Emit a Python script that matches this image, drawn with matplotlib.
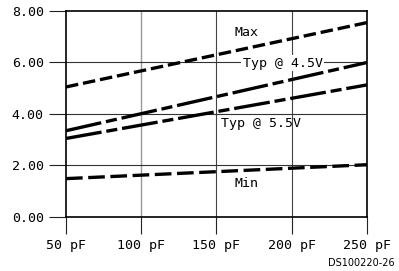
import matplotlib
matplotlib.use("Agg")
import matplotlib.pyplot as plt
import numpy as np

plt.rcParams['font.family'] = ['DejaVu Sans Mono']
plt.rcParams['lines.scale_dashes'] = False

# load capacitance (pF)
cap = [50, 250]
max_v = [5.05, 7.55]
typ45 = [3.35, 6.0]
typ55 = [3.05, 5.13]
min_v = [1.49, 2.03]

xticks = [50, 100, 150, 200, 250]
xlabels = ["50 pF", "100 pF", "150 pF", "200 pF", "250 pF"]
yticks = [0, 2, 4, 6, 8]
ylabels = ["0.00", "2.00", "4.00", "6.00", "8.00"]

fig = plt.figure(figsize=(3.99, 2.71), dpi=100)
ax = fig.add_axes([0.1654, 0.1993, 0.7544, 0.7601])

# grid
for x in [150, 200]:
    ax.axvline(x, color="#444444", lw=0.8, zorder=1)
ax.axvline(100, color="#999999", lw=1.0, zorder=1)
for y in [2, 4, 6]:
    ax.axhline(y, color="#333333", lw=0.8, zorder=1)

lw = 2.4
l, = ax.plot(cap, max_v, color="black", lw=lw, solid_capstyle="butt", zorder=3)
l.set_dashes((9, 3.5))
l, = ax.plot(cap, typ45, color="black", lw=lw, zorder=3)
l.set_dashes((26, 3.5, 8, 3.5))
l, = ax.plot(cap, typ55, color="black", lw=lw, zorder=3)
l.set_dashes((26, 3.5, 8, 3.5))
l, = ax.plot(cap, min_v, color="black", lw=lw, zorder=3)
l.set_dashes((12, 4))

ax.set_xlim(50, 250)
ax.set_ylim(0, 8)
ax.set_xticks(xticks)
ax.set_xticklabels(xlabels)
ax.set_yticks(yticks)
ax.set_yticklabels(ylabels)
ax.tick_params(axis="both", direction="out", length=12, width=0.8,
               labelsize=9.5, pad=4, color="#222222")
for s in ax.spines.values():
    s.set_linewidth(1.2)
    s.set_color("black")

fs = 9.5
ax.text(170, 7.15, "Max", ha="center", va="center", fontsize=fs, zorder=4)
ax.text(194, 5.98, "Typ @ 4.5V", ha="center", va="center", fontsize=fs, zorder=4,
        bbox=dict(facecolor="white", edgecolor="none", pad=1))
ax.text(153, 3.62, "Typ @ 5.5V", ha="left", va="center", fontsize=fs, zorder=4)
ax.text(170, 1.32, "Min", ha="center", va="center", fontsize=fs, zorder=4)

fig.text(0.99, 0.03, "DS100220-26", ha="right", va="center", fontsize=7,
         family="DejaVu Sans")

fig.savefig("out.png", dpi=100)
